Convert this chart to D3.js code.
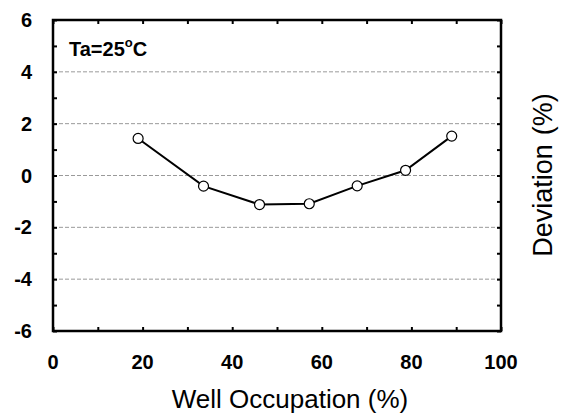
<!DOCTYPE html>
<html>
<head>
<meta charset="utf-8">
<script src="https://cdn.jsdelivr.net/npm/d3@7"></script>
<style>
  body { margin: 0; background: #fff; }
  text { font-family: Arial, "Liberation Sans", sans-serif; }
</style>
</head>
<body>
<script>
// Data
var occupation = [19.0, 33.6, 46.1, 57.2, 67.9, 78.7, 89.0];
var deviation = [1.43, -0.41, -1.12, -1.09, -0.40, 0.20, 1.52];
var xTickLabels = [0, 20, 40, 60, 80, 100];
var yTickLabels = [-6, -4, -2, 0, 2, 4, 6];
var gridValues = [-4, -2, 0, 2, 4];

var svgWidth = 565, svgHeight = 418;
var margin = { top: 20, right: 64, bottom: 87, left: 53 };
var chartWidth = svgWidth - margin.left - margin.right;
var chartHeight = svgHeight - margin.top - margin.bottom;

var svg = d3.select("body").append("svg")
    .attr("width", svgWidth)
    .attr("height", svgHeight);

var chartGroup = svg.append("g")
    .attr("transform", `translate(${margin.left}, ${margin.top})`);

var xScale = d3.scaleLinear().domain([0, 100]).range([0, chartWidth]);
var yScale = d3.scaleLinear().domain([-6, 6]).range([chartHeight, 0]);

// dashed grid lines
chartGroup.selectAll(".grid")
    .data(gridValues)
    .enter()
    .append("line")
    .attr("x1", 0)
    .attr("x2", chartWidth)
    .attr("y1", d => yScale(d))
    .attr("y2", d => yScale(d))
    .attr("stroke", "#9a9a9a")
    .attr("stroke-width", 1)
    .attr("stroke-dasharray", "4,2");

// inward ticks on all four sides
var xTicks = d3.range(0, 101, 10);
var yTicks = d3.range(-6, 7, 1);
function styleAxis(g) {
    g.select(".domain").remove();
    g.selectAll(".tick line").attr("stroke", "#000").attr("stroke-width", 2);
    g.selectAll(".tick text").remove();
}
chartGroup.append("g")
    .attr("transform", `translate(0, ${chartHeight})`)
    .call(d3.axisBottom(xScale).tickValues(xTicks).tickSize(-4))
    .call(styleAxis);
chartGroup.append("g")
    .call(d3.axisTop(xScale).tickValues(xTicks).tickSize(-4))
    .call(styleAxis);
chartGroup.append("g")
    .call(d3.axisLeft(yScale).tickValues(yTicks).tickSize(-4))
    .call(styleAxis);
chartGroup.append("g")
    .attr("transform", `translate(${chartWidth}, 0)`)
    .call(d3.axisRight(yScale).tickValues(yTicks).tickSize(-4))
    .call(styleAxis);

// frame
chartGroup.append("rect")
    .attr("width", chartWidth)
    .attr("height", chartHeight)
    .attr("fill", "none")
    .attr("stroke", "#000")
    .attr("stroke-width", 2.5);

// tick labels
chartGroup.selectAll(".xlab")
    .data(xTickLabels)
    .enter()
    .append("text")
    .attr("x", d => xScale(d))
    .attr("y", chartHeight + 38)
    .attr("text-anchor", "middle")
    .attr("font-size", 20)
    .attr("font-weight", "bold")
    .text(d => d);

chartGroup.selectAll(".ylab")
    .data(yTickLabels)
    .enter()
    .append("text")
    .attr("x", -21)
    .attr("y", d => yScale(d) + 7)
    .attr("text-anchor", "end")
    .attr("font-size", 20)
    .attr("font-weight", "bold")
    .text(d => d);

// line + markers
var points = occupation.map((x, i) => [x, deviation[i]]);
var line = d3.line().x(d => xScale(d[0])).y(d => yScale(d[1]));
chartGroup.append("path")
    .datum(points)
    .attr("d", line)
    .attr("fill", "none")
    .attr("stroke", "#000")
    .attr("stroke-width", 2);

chartGroup.selectAll(".dot")
    .data(points)
    .enter()
    .append("circle")
    .attr("cx", d => xScale(d[0]))
    .attr("cy", d => yScale(d[1]))
    .attr("r", 5)
    .attr("fill", "#fff")
    .attr("stroke", "#000")
    .attr("stroke-width", 1.2);

// annotation
var note = chartGroup.append("text")
    .attr("x", 16)
    .attr("y", 36)
    .attr("font-size", 20)
    .attr("font-weight", "bold");
note.append("tspan").text("Ta=25");
note.append("tspan").attr("font-size", 13).attr("dy", -9).text("o");
note.append("tspan").attr("dy", 9).text("C");

// axis titles
svg.append("text")
    .attr("x", 290)
    .attr("y", 408)
    .attr("text-anchor", "middle")
    .attr("font-size", 26)
    .text("Well Occupation (%)");

var yTitle = svg.append("text")
    .attr("transform", "translate(552, 175) rotate(-90)")
    .attr("text-anchor", "middle")
    .attr("font-size", 27);
yTitle.append("tspan").text("Deviation");
yTitle.append("tspan").attr("dx", 9).text("(%)");
</script>
</body>
</html>
